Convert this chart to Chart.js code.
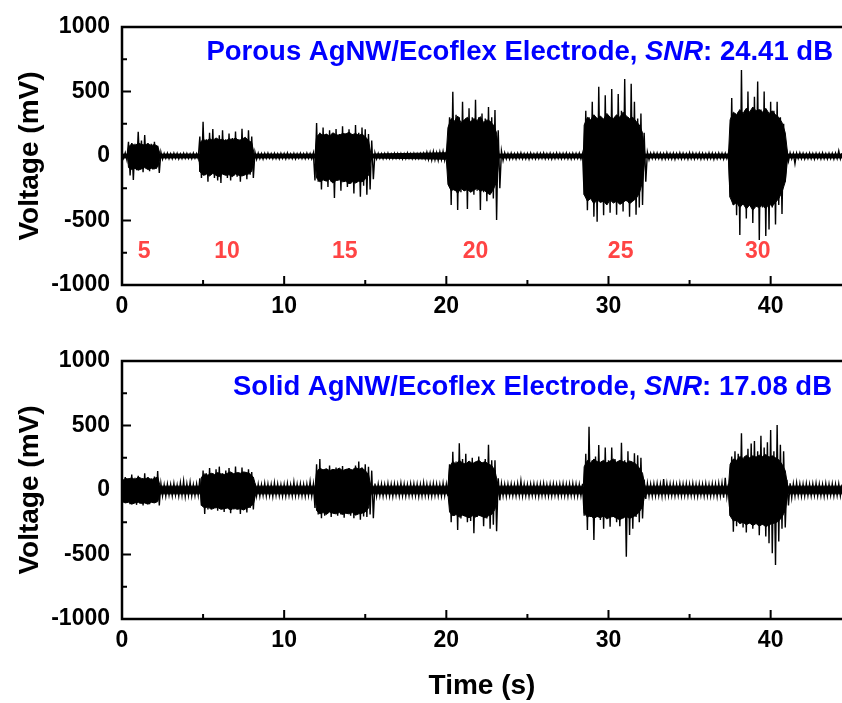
<!DOCTYPE html>
<html><head><meta charset="utf-8">
<script src="https://cdn.jsdelivr.net/npm/chart.js@4.4.1/dist/chart.umd.min.js"></script>
<style>
html,body{margin:0;padding:0;background:#fff;}
#wrap{position:relative;width:842px;height:703px;overflow:hidden;background:#fff;}
canvas{position:absolute;left:0;}
</style></head><body>
<div id="wrap">
<canvas id="c1" width="842" height="330" style="top:0px"></canvas>
<canvas id="c2" width="842" height="373" style="top:330px"></canvas>
</div>
<script>
// ---------- data ----------
const timeStep = 0.1;               // seconds between samples
const xTicks = [0, 10, 20, 30, 40];
const xMinorTicks = [5, 15, 25, 35];
const yTicks = [-1000, -500, 0, 500, 1000];
const yMinorTicks = [-750, -250, 250, 750];

// Porous AgNW/Ecoflex electrode (mV), one row per second
const porousSignal = [
  20,-18,25,-30,110,-150,100,-186,95,-110,
  188,-100,120,-125,163,-95,100,-118,95,-105,
  110,-100,80,-132,30,-25,20,-18,22,-20,
  18,-20,22,-17,20,-22,16,-19,21,-18,
  20,-18,17,-21,22,-16,19,-20,150,-170,
  266,-150,130,-200,180,-140,210,-170,130,-190,
  160,-209,200,-145,130,-170,175,-190,140,-150,
  190,-160,130,-200,212,-150,140,-180,200,-145,
  150,-170,30,-25,22,-20,18,-24,20,-18,
  22,-17,18,-20,21,-19,17,-22,20,-18,
  19,-21,23,-18,17,-20,20,-22,18,-17,
  21,-19,18,-20,22,-18,19,-21,24,-190,
  256,-200,180,-260,220,-190,170,-240,200,-200,
  165,-325,210,-190,170,-270,230,-200,175,-240,
  207,-215,170,-290,240,-200,180,-315,220,-230,
  207,-300,170,-260,120,-180,25,-22,20,-18,
  18,-21,20,-17,22,-19,17,-20,21,-18,
  20,-18,19,-22,17,-20,23,-18,18,-21,
  21,-19,18,-20,20,-17,22,-21,30,-28,
  28,-32,35,-30,27,-34,32,-29,36,-33,
  30,-35,300,-380,498,-270,320,-418,300,-280,
  420,-270,290,-410,370,-280,300,-300,435,-270,
  300,-418,330,-280,290,-350,380,-270,300,-330,
  357,-496,200,-250,40,-35,25,-22,20,-24,
  22,-20,18,-23,21,-19,24,-21,19,-22,
  20,-24,23,-19,18,-22,22,-20,21,-18,
  24,-21,19,-20,22,-23,18,-21,23,-19,
  21,-22,20,-18,24,-21,19,-23,22,-20,
  20,-19,23,-22,21,-300,350,-420,300,-330,
  420,-470,300,-509,537,-320,290,-460,470,-340,
  310,-440,520,-330,300,-455,480,-300,350,-430,
  597,-350,300,-470,560,-320,420,-455,290,-400,
  330,-380,180,-200,30,-28,22,-20,24,-21,
  23,-20,21,-24,19,-22,25,-21,20,-23,
  22,-25,20,-19,24,-22,21,-20,19,-24,
  25,-21,22,-23,20,-19,23,-24,21,-22,
  19,-23,24,-20,22,-25,20,-21,23,-19,
  22,-24,21,-20,25,-320,450,-380,330,-460,
  340,-612,666,-370,350,-485,500,-360,340,-520,
  460,-380,577,-651,360,-400,500,-620,340,-570,
  420,-400,350,-530,420,-380,300,-450,250,-200,
  30,-40,25,-22,20,-60,22,-20,24,-21,
  21,-23,19,-20,23,-22,20,-24,22,-19,
  20,-22,24,-21,19,-23,22,-20,21,-24,
  23,-20,40,-22,21
];
// dense (solid black) core band of the porous trace
const porousCoreTimes = [0.0,0.35,
  0.4,0.6,0.8,1.0,1.2,1.4,1.6,1.8,2.0,2.2, 2.35,4.75,
  4.8,5.0,5.2,5.4,5.6,5.8,6.0,6.2,6.4,6.6,6.8,7.0,7.2,7.4,7.6,7.8,8.0, 8.15,11.9,
  12.0,12.2,12.4,12.6,12.8,13.0,13.2,13.4,13.6,13.8,14.0,14.2,14.4,14.6,14.8,15.0,15.2, 15.35,20.0,
  20.1,20.3,20.5,20.7,20.9,21.1,21.3,21.5,21.7,21.9,22.1,22.3,22.5,22.7,22.9,23.1, 23.25,28.45,
  28.5,28.7,28.9,29.1,29.3,29.5,29.7,29.9,30.1,30.3,30.5,30.7,30.9,31.1,31.3,31.5,31.7,31.9,32.1, 32.25,37.4,
  37.5,37.7,37.9,38.1,38.3,38.5,38.7,38.9,39.1,39.3,39.5,39.7,39.9,40.1,40.3,40.5,40.7,40.9, 41.05,44.4];
const porousCoreUpper = [15,15,
  70,95,80,100,90,85,95,80,90,75, 15,15,
  100,130,115,135,120,140,125,130,115,135,125,140,120,130,145,120,105, 15,15,
  150,175,160,170,155,180,165,160,175,170,185,165,175,160,170,150,120, 15,25,
  220,290,270,310,260,280,300,265,290,275,305,260,280,270,240,180, 15,15,
  240,300,280,320,290,310,285,330,300,290,320,300,340,310,290,300,270,240,180, 15,15,
  280,340,320,360,330,370,340,380,350,360,340,370,330,350,320,300,260,180, 15,15];
const porousCoreLower = [-15,-15,
  -90,-105,-95,-110,-100,-90,-105,-95,-100,-85, -15,-15,
  -120,-150,-140,-155,-135,-150,-160,-140,-150,-145,-160,-140,-150,-155,-145,-140,-120, -15,-15,
  -170,-200,-185,-195,-180,-210,-190,-185,-200,-195,-215,-200,-210,-195,-200,-180,-150, -15,-25,
  -220,-270,-255,-290,-250,-270,-260,-280,-265,-250,-275,-260,-285,-300,-260,-200, -15,-15,
  -300,-350,-330,-370,-340,-360,-350,-380,-340,-365,-350,-375,-360,-340,-370,-350,-330,-290,-200, -15,-15,
  -320,-380,-360,-400,-370,-410,-380,-420,-390,-400,-380,-410,-370,-390,-360,-330,-280,-200, -15,-15];

// Solid AgNW/Ecoflex electrode (mV), one row per second
const solidSignal = [
  60,-80,100,-95,90,-110,120,-100,95,-115,
  110,-105,85,-120,130,-95,100,-110,90,-100,
  105,-90,147,-120,50,-45,40,-48,45,-40,
  42,-45,50,-40,38,-47,55,-42,70,-50,
  48,-42,60,-46,40,-44,46,-40,90,-120,
  150,-186,130,-150,170,-140,130,-130,160,-160,
  181,-140,130,-170,150,-140,170,-180,130,-150,
  181,-140,135,-186,175,-140,130,-175,160,-140,
  140,-150,50,-45,44,-48,40,-42,52,-46,
  46,-44,42,-50,55,-41,47,-45,40,-48,
  44,-47,50,-43,41,-46,60,-44,45,-42,
  48,-45,43,-49,46,-42,65,-47,44,-140,
  200,-190,240,-219,160,-200,150,-170,190,-210,
  160,-180,175,-200,150,-190,185,-215,160,-175,
  170,-200,150,-219,190,-185,220,-230,175,-205,
  200,-210,180,-190,150,-219,50,-48,45,-44,
  45,-47,42,-44,50,-46,44,-49,47,-42,
  43,-46,52,-44,46,-48,41,-45,49,-43,
  47,-44,45,-50,42,-46,55,-43,46,-47,
  44,-48,50,-42,46,-45,43,-47,52,-44,
  45,-48,200,-250,297,-200,220,-310,362,-220,
  240,-200,280,-250,200,-240,250,-335,220,-210,
  260,-200,210,-280,240,-220,350,-300,230,-270,
  230,-320,90,-80,50,-45,44,-48,46,-42,
  47,-44,42,-46,50,-43,70,-47,45,-45,
  43,-48,46,-42,48,-45,44,-49,47,-43,
  50,-44,42,-47,45,-46,48,-42,43,-48,
  46,-43,49,-45,44,-48,47,-44,50,-46,
  45,-47,43,-44,48,-200,280,-310,491,-210,
  230,-387,260,-210,348,-232,220,-300,330,-210,
  230,-284,330,-210,240,-250,220,-280,366,-220,
  230,-517,300,-348,220,-300,284,-210,270,-250,
  250,-220,80,-70,50,-46,45,-48,48,-44,
  50,-44,46,-48,85,-42,52,-45,47,-43,
  48,-46,44,-42,50,-47,45,-44,49,-45,
  46,-43,51,-46,44,-48,47,-42,45,-47,
  50,-45,43,-47,48,-44,46,-50,52,-46,
  55,-60,95,-52,48,-200,260,-323,300,-280,
  280,-260,440,-290,260,-330,320,-260,360,-300,
  380,-260,300,-350,420,-270,330,-360,370,-413,
  465,-491,300,-581,504,-400,350,-300,300,-290,
  80,-120,52,-60,48,-46,55,-44,47,-48,
  45,-47,50,-43,44,-46,48,-42,52,-45,
  46,-44,43,-48,49,-45,45,-42,47,-46,
  44,-43,48,-45,42
];
const solidCoreTimes = [
  0.0,0.2,0.4,0.6,0.8,1.0,1.2,1.4,1.6,1.8,2.0,2.2, 2.35,4.85,
  4.9,5.1,5.3,5.5,5.7,5.9,6.1,6.3,6.5,6.7,6.9,7.1,7.3,7.5,7.7,7.9,8.1, 8.25,11.9,
  12.0,12.2,12.4,12.6,12.8,13.0,13.2,13.4,13.6,13.8,14.0,14.2,14.4,14.6,14.8,15.0,15.2, 15.35,20.1,
  20.2,20.4,20.6,20.8,21.0,21.2,21.4,21.6,21.8,22.0,22.2,22.4,22.6,22.8,23.0, 23.2,28.45,
  28.5,28.7,28.9,29.1,29.3,29.5,29.7,29.9,30.1,30.3,30.5,30.7,30.9,31.1,31.3,31.5,31.7,31.9,32.1, 32.25,37.4,
  37.5,37.7,37.9,38.1,38.3,38.5,38.7,38.9,39.1,39.3,39.5,39.7,39.9,40.1,40.3,40.5,40.7,40.9, 41.05,44.4];
const solidCoreUpper = [
  70,90,85,95,80,100,90,85,95,80,90,100, 30,30,
  100,125,115,130,120,135,125,120,130,140,125,135,130,140,135,125,100, 30,30,
  140,170,155,165,150,160,155,170,150,160,165,155,175,160,170,150,120, 30,30,
  180,220,200,230,210,200,225,205,215,230,210,220,200,190,150, 30,30,
  180,230,210,240,220,215,230,210,225,240,215,230,220,210,225,215,200,170,130, 30,30,
  200,240,230,260,245,270,250,265,255,270,260,275,255,265,250,235,200,150, 30,30];
const solidCoreLower = [
  -90,-100,-95,-110,-100,-95,-105,-100,-110,-95,-100,-90, -30,-30,
  -120,-140,-130,-150,-140,-135,-150,-145,-140,-155,-140,-150,-145,-155,-140,-130,-110, -30,-30,
  -160,-185,-175,-190,-170,-180,-185,-175,-190,-180,-185,-175,-195,-185,-180,-170,-140, -30,-30,
  -170,-200,-190,-210,-195,-205,-215,-200,-210,-195,-205,-215,-200,-190,-150, -30,-30,
  -180,-210,-200,-220,-205,-215,-200,-225,-210,-205,-220,-230,-215,-205,-220,-210,-195,-170,-130, -30,-30,
  -200,-240,-235,-260,-250,-270,-255,-275,-260,-280,-265,-285,-270,-260,-255,-240,-210,-160, -30,-30];

const porousTitle = ['Porous AgNW/Ecoflex Electrode, ', 'SNR', ': 24.41 dB'];
const solidTitle  = ['Solid AgNW/Ecoflex Electrode, ', 'SNR', ': 17.08 dB'];
const speedLabels = ['5', '10', '15', '20', '25', '30'];
const speedLabelTimes = [1.36, 6.47, 13.74, 21.8, 30.75, 39.2];
const speedLabelVoltage = -744;

// ---------- drawing ----------
const FONT = '"Liberation Sans", Arial, Helvetica, sans-serif';
const toPoints = arr => arr.map((v, i) => ({ x: +(i * timeStep).toFixed(1), y: v }));
const zipPoints = (ts, vs) => ts.map((t, i) => ({ x: t, y: vs[i] }));

const framePlugin = {
  id: 'frame',
  afterDatasetsDraw(chart, args, opts) {
    const { ctx, chartArea: a, scales: { x, y } } = chart;
    ctx.save();
    ctx.strokeStyle = '#000';
    ctx.lineWidth = 2.5;
    ctx.beginPath();
    ctx.moveTo(a.right + 2, a.top);
    ctx.lineTo(a.left, a.top);
    ctx.lineTo(a.left, a.bottom);
    ctx.lineTo(a.right + 2, a.bottom);
    ctx.stroke();
    ctx.lineWidth = 2;
    ctx.beginPath();
    yTicks.forEach(v => { const p = y.getPixelForValue(v); ctx.moveTo(a.left, p); ctx.lineTo(a.left + 9, p); });
    yMinorTicks.forEach(v => { const p = y.getPixelForValue(v); ctx.moveTo(a.left, p); ctx.lineTo(a.left + 5, p); });
    xTicks.forEach(v => { const p = x.getPixelForValue(v); ctx.moveTo(p, a.bottom); ctx.lineTo(p, a.bottom - 9); });
    xMinorTicks.forEach(v => { const p = x.getPixelForValue(v); ctx.moveTo(p, a.bottom); ctx.lineTo(p, a.bottom - 5); });
    ctx.stroke();

    // title with italic SNR
    const parts = opts.title;
    const fN = 'bold 27.5px ' + FONT, fI = 'italic bold 27.5px ' + FONT;
    const fonts = [fN, fI, fN];
    let w = 0;
    const widths = parts.map((t, i) => { ctx.font = fonts[i]; const m = ctx.measureText(t).width; w += m; return m; });
    let sx = opts.titleRight - w;
    ctx.fillStyle = '#0000FF';
    ctx.textBaseline = 'alphabetic';
    ctx.textAlign = 'left';
    parts.forEach((t, i) => { ctx.font = fonts[i]; ctx.fillText(t, sx, opts.titleBaseline); sx += widths[i]; });

    if (opts.speed) {
      ctx.fillStyle = '#FF4444';
      ctx.font = 'bold 23px ' + FONT;
      ctx.textAlign = 'center';
      ctx.textBaseline = 'middle';
      speedLabels.forEach((s, i) => {
        ctx.fillText(s, x.getPixelForValue(speedLabelTimes[i]), y.getPixelForValue(speedLabelVoltage));
      });
    }
    ctx.restore();
  }
};

function makeChart(id, signal, coreT, coreU, coreL, cfg) {
  return new Chart(document.getElementById(id), {
    type: 'line',
    data: {
      datasets: [
        { data: toPoints(signal), borderColor: '#000', borderWidth: 1.4, pointRadius: 0, tension: 0, fill: false, order: 0 },
        { data: zipPoints(coreT, coreU), borderColor: '#000', backgroundColor: '#000', borderWidth: 1,
          pointRadius: 0, tension: 0, fill: '+1', order: 1 },
        { data: zipPoints(coreT, coreL), borderColor: '#000', borderWidth: 1,
          pointRadius: 0, tension: 0, fill: false, order: 1 }
      ]
    },
    options: {
      responsive: false,
      animation: false,
      events: [],
      layout: { padding: { top: cfg.padTop, left: 0, right: 0, bottom: 0 } },
      plugins: {
        legend: { display: false },
        tooltip: { enabled: false },
        frame: { title: cfg.title, titleRight: cfg.titleRight, titleBaseline: cfg.titleBaseline, speed: cfg.speed }
      },
      scales: {
        x: {
          type: 'linear', min: 0, max: 44.4,
          grid: { display: false, drawTicks: false },
          border: { display: false },
          afterBuildTicks: s => { s.ticks = xTicks.map(v => ({ value: v })); },
          afterFit: s => { s.height = cfg.xHeight; s.paddingLeft = 0; s.paddingRight = 0; },
          ticks: { padding: 8, maxRotation: 0, autoSkip: false, color: '#000',
                   font: { family: FONT, size: 23, weight: 'bold' }, callback: v => String(v) },
          title: { display: cfg.xTitle, text: 'Time (s)', color: '#000',
                   font: { family: FONT, size: 28, weight: 'bold' }, padding: { top: 0, bottom: 0 } }
        },
        y: {
          type: 'linear', min: -1000, max: 1000,
          grid: { display: false, drawTicks: false },
          border: { display: false },
          afterBuildTicks: s => { s.ticks = yTicks.map(v => ({ value: v })); },
          afterFit: s => { s.width = 122; s.paddingTop = 0; s.paddingBottom = 0; },
          ticks: { padding: 12, color: '#000',
                   font: { family: FONT, size: 23, weight: 'bold' }, callback: v => String(v) },
          title: { display: true, text: 'Voltage (mV)', color: '#000',
                   font: { family: FONT, size: 28, weight: 'bold' }, padding: { top: 13, bottom: 0 } }
        }
      }
    },
    plugins: [framePlugin]
  });
}

makeChart('c1', porousSignal, porousCoreTimes, porousCoreUpper, porousCoreLower,
  { padTop: 27, xHeight: 45, xTitle: false, title: porousTitle, titleRight: 833, titleBaseline: 60, speed: true });
makeChart('c2', solidSignal, solidCoreTimes, solidCoreUpper, solidCoreLower,
  { padTop: 31, xHeight: 84, xTitle: true, title: solidTitle, titleRight: 832, titleBaseline: 65, speed: false });
</script>
</body></html>
